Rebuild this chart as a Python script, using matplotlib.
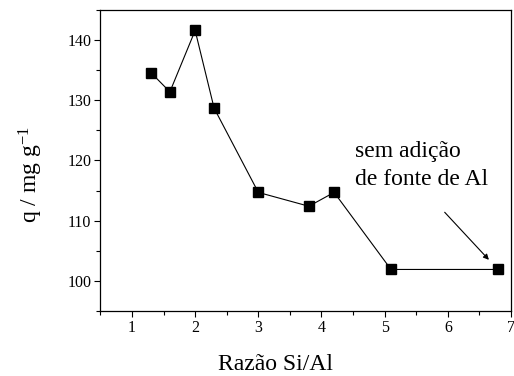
import matplotlib
matplotlib.use("Agg")
import matplotlib.pyplot as plt
from matplotlib.ticker import MultipleLocator

razao = [1.3, 1.6, 2.0, 2.3, 3.0, 3.8, 4.2, 5.1, 6.8]
q = [134.6, 131.4, 141.6, 128.7, 114.7, 112.4, 114.7, 101.9, 101.9]
xlabel = "Razão Si/Al"
ylabel = "q / mg g$^{-1}$"
note_lines = ["sem adição", "de fonte de Al"]

plt.rcParams['font.family'] = ['Liberation Serif', 'DejaVu Serif']
plt.rcParams['mathtext.fontset'] = 'custom'
plt.rcParams['mathtext.rm'] = 'Liberation Serif'
plt.rcParams['mathtext.it'] = 'Liberation Serif'

fig = plt.figure(figsize=(5.14, 3.76), dpi=100)
ax = fig.add_axes([0.1953, 0.1729, 0.9942 - 0.1953, 0.9734 - 0.1729])

ax.plot(razao, q, color='black', lw=0.8, marker='s', markersize=7,
        markerfacecolor='black', markeredgecolor='black')

ax.set_xlim(0.5, 7)
ax.set_ylim(95, 145)
ax.xaxis.set_major_locator(MultipleLocator(1))
ax.xaxis.set_minor_locator(MultipleLocator(0.5))
ax.yaxis.set_major_locator(MultipleLocator(10))
ax.yaxis.set_minor_locator(MultipleLocator(5))
ax.tick_params(which='major', direction='out', length=4.5, width=0.8, labelsize=11.5, pad=2)
ax.tick_params(which='minor', direction='out', length=3, width=0.8)
for s in ax.spines.values():
    s.set_linewidth(0.9)

fig.text(276 / 514, 1 - 370 / 376, xlabel, fontsize=17, ha='center', va='baseline')
fig.text(31 / 514, 1 - 175 / 376, ylabel, fontsize=17, ha='center', va='center', rotation=90)

ax.annotate('', xy=(6.65, 103.5), xytext=(5.95, 111.4),
            arrowprops=dict(arrowstyle='-|>', color='black', lw=0.8,
                            mutation_scale=8, shrinkA=0, shrinkB=0))
for line, yy in zip(note_lines, [120.5, 115.9]):
    ax.text(4.53, yy, line, fontsize=17, va='baseline', ha='left')

fig.savefig("out.png", dpi=100)
